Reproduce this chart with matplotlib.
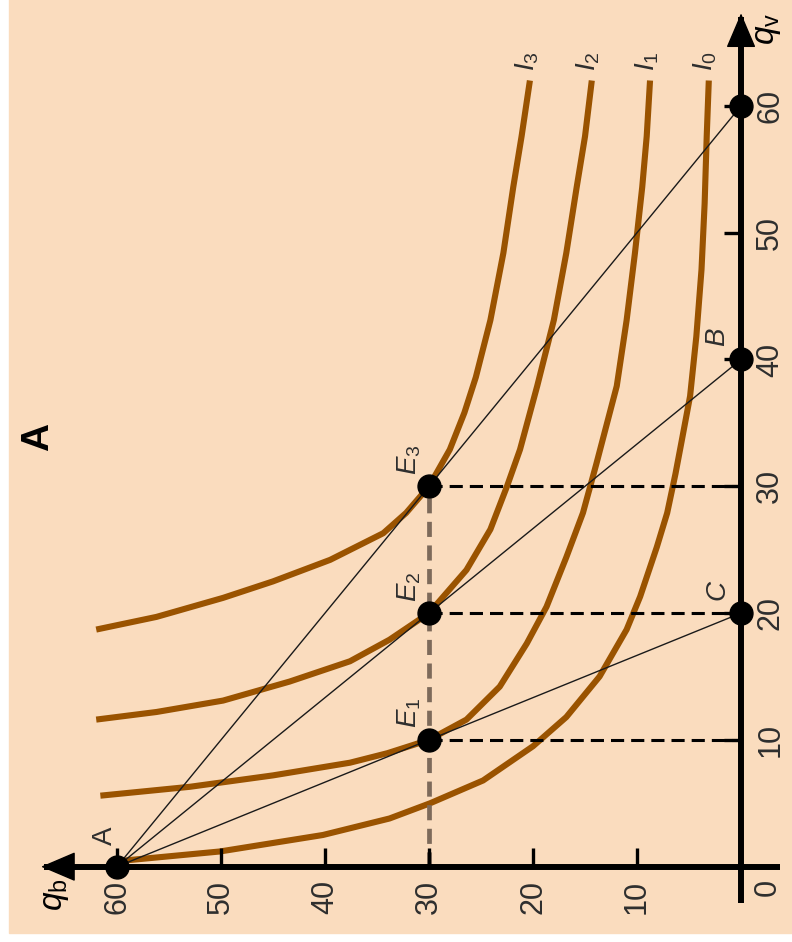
import matplotlib
matplotlib.use('Agg')
from matplotlib import pyplot as plt
from matplotlib.patches import Rectangle

# axis values
qb_ticks = [10, 20, 30, 40, 50, 60]
qv_ticks = [10, 20, 30, 40, 50, 60]

# indifference curves as (q_b, q_v) pairs
i0_qb = [60.0, 59.1, 50.1, 40.2, 33.8, 29.9, 24.8, 20.0, 16.8, 13.6, 11.0, 9.7, 8.1, 7.1,
         6.3, 5.7, 4.9, 4.3, 3.8, 3.5, 3.3, 3.1]
i0_qv = [0.0, 0.5, 1.2, 2.5, 3.8, 5.0, 6.8, 9.5, 11.8, 15.0, 18.7, 21.3, 25.2, 27.9,
         31.0, 33.6, 37.1, 41.8, 47.1, 52.3, 57.6, 62.0]

i1_qb = [61.6, 53.0, 45.0, 37.6, 34.0, 30.0, 26.4, 23.2, 20.6, 18.7, 16.8, 15.2, 13.9,
         11.95, 11.0, 10.2, 9.5, 9.07, 8.75]
i1_qv = [5.6, 6.3, 7.2, 8.2, 8.95, 10.0, 11.6, 14.2, 17.6, 20.5, 24.4, 27.9, 31.8,
         37.9, 43.1, 48.4, 53.6, 57.6, 62.0]

i2_qb = [62.0, 56.2, 49.8, 43.4, 37.6, 33.8, 30.0, 26.4, 24.1, 22.5, 21.25, 19.6, 18.0,
         16.8, 15.8, 15.0, 14.35]
i2_qv = [11.6, 12.2, 13.1, 14.6, 16.2, 17.9, 20.0, 23.4, 26.6, 30.0, 32.9, 37.9, 43.1,
         48.4, 53.6, 57.6, 62.0]

i3_qb = [62.0, 56.2, 49.8, 45.0, 39.5, 34.4, 32.2, 30.0, 28.0, 26.6, 25.5, 24.1, 22.85,
         21.9, 21.1, 20.3]
i3_qv = [18.7, 19.7, 21.2, 22.5, 24.2, 26.3, 27.9, 30.0, 32.9, 35.8, 38.6, 43.1, 48.4,
         53.6, 57.6, 62.0]

curve_names = ['$I_0$', '$I_1$', '$I_2$', '$I_3$']

# budget lines all start in A
a_point = (60, 0)
line_ends_qv = [20, 40, 60]          # C, B and the third intercept
line_names = ['C', 'B', None]

# optimum points
e_qb = [30, 30, 30]
e_qv = [10, 20, 30]
e_names = ['$E_1$', '$E_2$', '$E_3$']

peach = '#fadcbe'
brown = '#9a5300'
txt = '#2e2e2e'

plt.rcParams['font.family'] = ['Liberation Sans', 'DejaVu Sans']
plt.rcParams['mathtext.fontset'] = 'custom'
plt.rcParams['mathtext.it'] = 'Liberation Sans:italic'
plt.rcParams['mathtext.rm'] = 'Liberation Sans'

fig = plt.figure(figsize=(7.92, 9.42), dpi=100)
fig.patch.set_facecolor('white')
fig.add_artist(Rectangle((9/792, 9/942), 1, 1, transform=fig.transFigure,
                         color=peach, zorder=-1))

ax = fig.add_axes([0, 0, 1, 1])
ax.patch.set_visible(False)
ax.set_xlim(71.25, -4.9)
ax.set_ylim(-5.94, 68.35)
ax.axis('off')

# indifference curves
curves = [(i0_qb, i0_qv), (i1_qb, i1_qv), (i2_qb, i2_qv), (i3_qb, i3_qv)]
for (qb, qv), name in zip(curves, curve_names):
    ax.plot(qb, qv, color=brown, lw=4.4, solid_capstyle='butt',
            solid_joinstyle='round', zorder=2)
    ax.text(qb[-1] + 0.3, 63.5, name, rotation=90, ha='center', va='center',
            fontsize=20, color=txt)

# budget lines from A
for qv_end in line_ends_qv:
    ax.plot([a_point[0], 0], [a_point[1], qv_end], color='#1a1a1a', lw=1.0, zorder=3)

# dashed guides
for qb, qv in zip(e_qb, e_qv):
    ax.plot([qb, 0], [qv, qv], color='k', lw=2.2, ls=(0, (4.3, 2.3)), zorder=3)
ax.plot([30, 30], [0, 30], color='#7d6a5a', lw=3.4, ls=(0, (3.2, 1.8)), zorder=3)

# axes with arrows
ax.plot([67.0, -3.75], [0, 0], color='k', lw=4.3, solid_capstyle='butt', zorder=4)
ax.plot([0, 0], [-2.85, 67.0], color='k', lw=4.3, solid_capstyle='butt', zorder=4)
arrow = dict(arrowstyle='-|>,head_length=0.75,head_width=0.32', mutation_scale=30,
             fc='k', ec='k', lw=1, shrinkA=0, shrinkB=0)
ax.annotate('', xy=(67.3, 0), xytext=(63.5, 0), arrowprops=arrow, zorder=5)
ax.annotate('', xy=(0, 67.3), xytext=(0, 64.0), arrowprops=arrow, zorder=5)

# ticks
ax.plot(qb_ticks, [0] * len(qb_ticks), ls='none', marker=2, markersize=14,
        mew=2.4, color='k', zorder=4)
ax.plot([0] * len(qv_ticks), qv_ticks, ls='none', marker=0, markersize=12,
        mew=2.4, color='k', zorder=4)

for t in qb_ticks:
    ax.text(t, -2.4, str(t), rotation=90, ha='center', va='center',
            fontsize=22, color=txt)
for t in qv_ticks:
    ax.text(-2.8, t, str(t), rotation=90, ha='center', va='center',
            fontsize=22, color=txt)
ax.text(-2.6, -1.6, '0', rotation=90, ha='center', va='center', fontsize=22, color=txt)

ax.text(65.9, -2.2, '$q_\\mathrm{b}$', rotation=90, ha='center', va='center',
        fontsize=24, color='k')
ax.text(-2.5, 66.1, '$q_\\mathrm{v}$', rotation=90, ha='center', va='center',
        fontsize=24, color='k')

# points
ax.plot([a_point[0]], [a_point[1]], 'o', color='k', markersize=16.5, zorder=6)
ax.plot([0] * len(line_ends_qv), line_ends_qv, 'o', color='k', markersize=16.5, zorder=6)
ax.plot(e_qb, e_qv, 'o', color='k', markersize=16.5, zorder=6)

ax.text(61.2, 2.4, 'A', rotation=90, ha='center', va='center', fontsize=20, color=txt)
for qv_end, name in zip(line_ends_qv, line_names):
    if name:
        ax.text(2.3, qv_end + 1.8, name, rotation=90, ha='center', va='center',
                fontsize=20, style='italic', color=txt)
for qb, qv, name in zip(e_qb, e_qv, e_names):
    ax.text(qb + 1.9, qv + 2.1, name, rotation=90, ha='center', va='center',
            fontsize=20, color=txt)

ax.text(67.6, 33.9, 'A', rotation=90, ha='center', va='center', fontsize=28,
        fontweight='bold', color='k')

fig.savefig('out.png', dpi=100)
